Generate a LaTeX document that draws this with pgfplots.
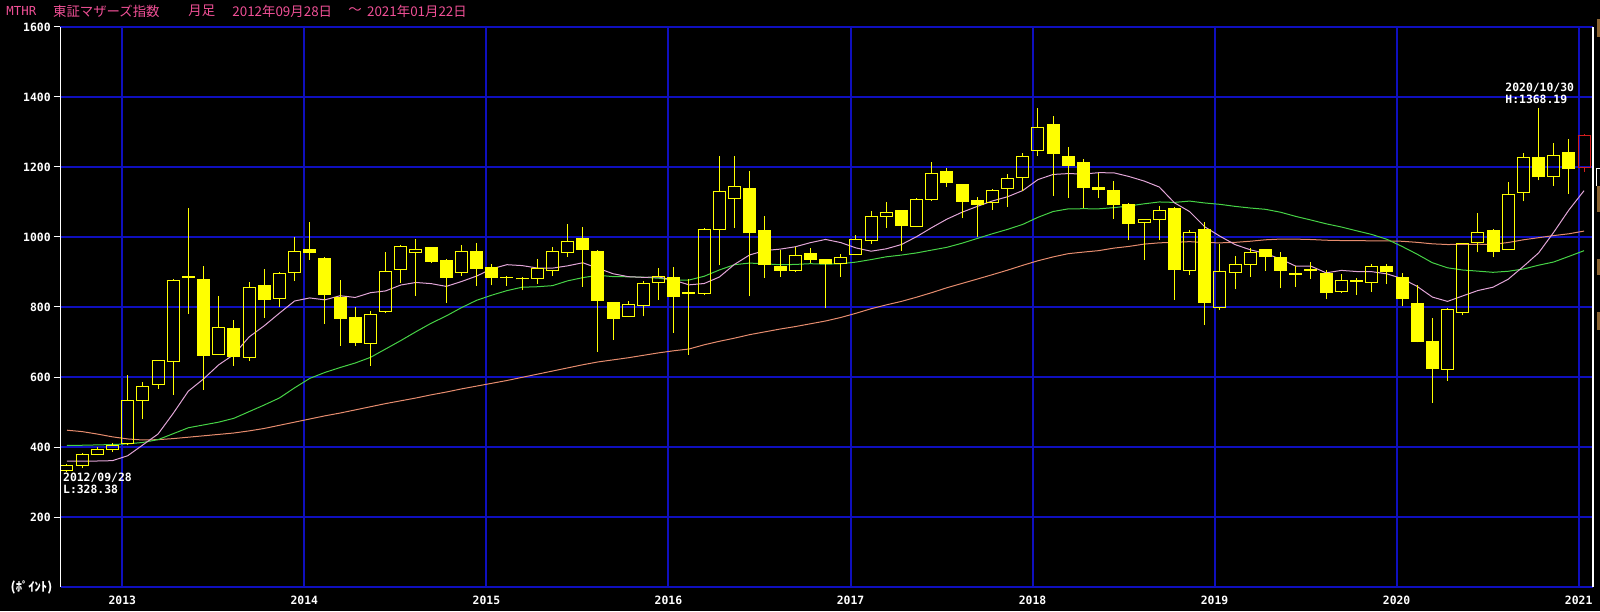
\documentclass[border=0pt]{standalone}
\usepackage{fontspec}
\usepackage{pgfplots}
\usepackage{pgfplotstable}
\pgfplotsset{compat=1.18}
\newfontfamily\cjk{Noto Sans CJK JP}
\newfontfamily\mono{DejaVu Sans Mono}
\definecolor{gridblue}{RGB}{15,15,190}
\definecolor{candle}{RGB}{255,255,0}
\definecolor{redc}{RGB}{210,30,30}
\definecolor{mapink}{RGB}{225,165,215}
\definecolor{magreen}{RGB}{70,210,70}
\definecolor{maorange}{RGB}{230,140,110}
\definecolor{titlepink}{RGB}{240,80,150}
\definecolor{brownbar}{RGB}{140,100,50}

\pgfplotstableread{
i o h l c
0 333 352 328.38 348
1 348 383 339 379
2 379 400 377 393
3 393 411 387 405
4 409 605 405 533
5 533 586 479 573
6 578 649 567 646
7 645 880 550 876
10 665 831 663 742
12 655 871 646 856
14 825 900 801 897
15 898 999 875 959
20 696 789 632 779
21 787 957 785 902
22 908 977 869 973
23 956 993 832 963
26 898 977 889 959
29 884 889 861 885
31 882 937 866 911
32 905 970 889 959
33 955 1037 944 988
37 773 816 771 808
38 805 873 773 868
39 870 912 821 888
41 839 879 664 840
42 838 1027 836 1022
43 1022 1231 919 1130
44 1110 1231 1027 1144
48 904 972 901 948
51 925 952 887 942
52 950 1006 948 993
53 991 1074 981 1059
54 1059 1100 1027 1071
56 1031 1111 1028 1106
57 1107 1213 1105 1181
61 1099 1137 1078 1133
62 1138 1179 1087 1167
63 1170 1240 1132 1230
64 1247 1369 1232 1313
71 1042 1052 934 1050
72 1051 1089 992 1076
74 904 1020 890 1012
76 799 980 791 900
77 899 946 850 920
78 922 968 887 956
81 894 916 858 895
82 905 928 881 906
84 845 893 841 875
86 871 922 844 916
91 622 796 590 794
92 785 984 776 982
93 984 1069 956 1013
95 965 1157 963 1122
96 1128 1240 1102 1228
98 1172 1268 1147 1233
}\candup

\pgfplotstableread{
i o h l c
8 888 1083 781 884
9 880 917 564 661
11 739 763 632 658
13 862 908 769 821
16 966 1043 935 955
17 940 942 752 835
18 829 877 689 767
19 771 800 689 698
24 970 971 926 929
25 934 936 812 884
27 960 982 861 909
28 913 922 862 884
30 884 886 848 879
34 996 1028 858 964
35 960 962 672 818
36 813 815 707 767
40 885 913 727 829
45 1139 1189 830 1010
46 1019 1059 884 921
47 916 963 887 904
49 953 969 925 935
50 936 938 798 923
55 1076 1078 961 1031
58 1189 1196 1144 1153
59 1150 1152 1053 1101
60 1105 1114 999 1092
65 1323 1346 1118 1238
66 1231 1257 1112 1204
67 1213 1223 1084 1141
68 1143 1184 1111 1135
69 1134 1160 1052 1090
70 1093 1098 990 1038
73 1083 1085 821 907
75 1023 1042 750 812
79 965 967 904 944
80 942 957 853 904
83 896 907 822 841
85 877 883 835 872
87 917 922 865 899
88 885 896 804 824
89 811 863 699 701
90 702 769 527 622
94 1020 1023 942 958
97 1228 1368.19 1162 1170
99 1243 1279 1124 1195
}\canddown

\pgfplotstableread{
i o h l c
100 1199 1294 1185 1291
}\candlast

\pgfplotstableread{
i p g r
0 360 405 448
1 360 405 444
2 360 406 437
3 361 407 429
4 375 409 423
5 406 413 420
6 437 421 421
7 496 438 424
8 559.7 455 428
9 594.4 463 432
10 634.8 471 436
11 664.2 482 440
12 714.3 501 446
13 746.3 520 453
14 782.3 540 462
15 817.1 569 471
16 825.9 596 480
17 820.4 613 489
18 832.2 627 497
19 827.3 640 506
20 840.8 656 515
21 845.9 680 524
22 862.8 704 532
23 870.1 729.3 540
24 866.8 753.5 549
25 858.9 774.5 557
26 872.7 798.1 566
27 888.4 819.1 574
28 909.1 833.8 582
29 920.9 846.8 590
30 918.3 856.5 599
31 911.4 857.9 608
32 911.0 861.0 617
33 917.6 874.7 626
34 926.4 883.9 635
35 910.8 890.6 643
36 895.0 886.9 649
37 886.6 886.3 655
38 884.7 885.1 662
39 885.7 882.2 669
40 876.6 876.9 675
41 863.3 877.1 680
42 867.1 887.8 692
43 885.6 905.8 702
44 921.8 921.0 711
45 948.8 925.5 721
46 961.3 923.3 729
47 965.3 920.8 737
48 972.0 921.6 744
49 983.8 923.8 752
50 993.0 922.3 760
51 984.1 923.6 770
52 968.9 928.2 782
53 959.4 935.4 795
54 966.2 943.4 806
55 978.4 948.4 816
56 1000.9 954.5 828
57 1026.8 962.6 841
58 1051.0 970.5 855
59 1070.8 982.3 867.4
60 1087.4 995.8 879.8
61 1103.0 1009.3 892.4
62 1115.0 1021.8 905.3
63 1132.7 1036.0 919.1
64 1164.0 1056.2 932.1
65 1178.7 1072.8 943.1
66 1181.2 1080.4 952.4
67 1179.9 1080.8 956.9
68 1183.7 1080.5 961.0
69 1183.4 1083.8 968.2
70 1172.9 1088.7 973.1
71 1159.9 1094.8 979.7
72 1142.8 1100.1 983.3
73 1097.7 1098.9 984.8
74 1072.6 1102.6 986.7
75 1029.0 1097.2 984.2
76 1002.2 1093.3 983.3
77 978.3 1087.5 984.7
78 963.4 1082.8 987.9
79 953.0 1079.1 992.0
80 936.8 1070.7 994.1
81 916.7 1058.8 993.9
82 916.6 1048.5 992.8
83 897.6 1037.7 990.8
84 904.6 1028.6 989.9
85 901.4 1017.8 989.7
86 901.0 1007.3 989.0
87 894.7 993.5 988.8
88 881.3 973.1 987.8
89 858.8 950.8 984.7
90 828.4 926.5 980.5
91 816.0 912.0 978.5
92 831.7 905.7 978.9
93 847.0 902.5 979.3
94 856.6 899.1 979.2
95 879.4 902.1 984.3
96 916.0 908.5 992.0
97 954.4 919.4 998.0
98 1013.6 928.6 1004.1
99 1077.2 944.6 1009.2
100 1132.4 960.9 1016.9
}\madata

\begin{document}
\begin{tikzpicture}[x=1pt,y=1pt]
\fill[black] (0,0) rectangle (800,305.5);
\useasboundingbox (0,0) rectangle (800,305.5);
\begin{axis}[
  name=ax,
  at={(30.25pt,12pt)}, anchor=south west,
  scale only axis, width=766.25pt, height=280pt,
  xmin=-0.428, xmax=100.59, ymin=0, ymax=1600,
  axis line style={draw=none},
  xtick={3.645,15.645,27.645,39.645,51.65,63.645,75.645,87.645,99.645},
  xticklabels={2013,2014,2015,2016,2017,2018,2019,2020,2021},
  ytick={200,400,600,800,1000,1200,1400,1600},
  yticklabels={200,400,600,800,1000,1200,1400,1600},
  grid=major,
  major grid style={draw=gridblue, line width=1pt},
  tick align=outside, xtick pos=bottom, ytick pos=left,
  major tick length=3.5pt,
  xtick style={draw=none},
  ytick style={draw=white, line width=0.5pt},
  every tick label/.append style={text=white, font=\mono\bfseries\fontsize{5.7pt}{6pt}\selectfont},
  yticklabel style={inner sep=0pt, anchor=east, xshift=-1.2pt},
  xticklabel style={inner sep=0pt, anchor=north, yshift=-1pt},
]
% moving averages
\addplot[maorange, line width=0.5pt] table[x=i, y=r] {\madata};
\addplot[magreen, line width=0.5pt] table[x=i, y=g] {\madata};
\addplot[mapink, line width=0.5pt] table[x=i, y=p] {\madata};
% rising candles (hollow)
\addplot[candle, line width=0.5pt, quiver={u=0, v=\thisrow{h}-\thisrow{c}}] table[x=i, y=c] {\candup};
\addplot[candle, line width=0.5pt, quiver={u=0, v=\thisrow{o}-\thisrow{l}}] table[x=i, y=l] {\candup};
\addplot[candle, line width=0.5pt, quiver={u=0, v=\thisrow{c}-\thisrow{o}}] table[x expr=\thisrow{i}-0.3955, y=o] {\candup};
\addplot[candle, line width=0.5pt, quiver={u=0, v=\thisrow{c}-\thisrow{o}}] table[x expr=\thisrow{i}+0.3955, y=o] {\candup};
\addplot[candle, line width=0.5pt, quiver={u=0.857, v=0}] table[x expr=\thisrow{i}-0.4285, y=o] {\candup};
\addplot[candle, line width=0.5pt, quiver={u=0.857, v=0}] table[x expr=\thisrow{i}-0.4285, y=c] {\candup};
% falling candles (filled)
\addplot[candle, line width=0.5pt, quiver={u=0, v=\thisrow{h}-\thisrow{l}}] table[x=i, y=l] {\canddown};
\addplot[candle, line width=6.5pt, quiver={u=0, v=\thisrow{o}-\thisrow{c}}] table[x=i, y=c] {\canddown};
% current month (red, hollow)
\addplot[redc, line width=0.5pt, quiver={u=0, v=\thisrow{h}-\thisrow{c}}] table[x=i, y=c] {\candlast};
\addplot[redc, line width=0.5pt, quiver={u=0, v=\thisrow{o}-\thisrow{l}}] table[x=i, y=l] {\candlast};
\addplot[redc, line width=0.5pt, quiver={u=0, v=\thisrow{c}-\thisrow{o}}] table[x expr=\thisrow{i}-0.3955, y=o] {\candlast};
\addplot[redc, line width=0.5pt, quiver={u=0, v=\thisrow{c}-\thisrow{o}}] table[x expr=\thisrow{i}+0.3955, y=o] {\candlast};
\addplot[redc, line width=0.5pt, quiver={u=0.857, v=0}] table[x expr=\thisrow{i}-0.4285, y=o] {\candlast};
\addplot[redc, line width=0.5pt, quiver={u=0.857, v=0}] table[x expr=\thisrow{i}-0.4285, y=c] {\candlast};
% annotations
\node[anchor=west, inner sep=0pt, text=white, font=\mono\bfseries\fontsize{5.7pt}{6pt}\selectfont] at (axis cs:-0.28,312.9) {2012/09/28};
\node[anchor=west, inner sep=0pt, text=white, font=\mono\bfseries\fontsize{5.7pt}{6pt}\selectfont] at (axis cs:-0.28,280) {L:328.38};
\node[anchor=west, inner sep=0pt, text=white, font=\mono\bfseries\fontsize{5.7pt}{6pt}\selectfont] at (axis cs:94.79,1425.7) {2020/10/30};
\node[anchor=west, inner sep=0pt, text=white, font=\mono\bfseries\fontsize{5.7pt}{6pt}\selectfont] at (axis cs:94.79,1392.9) {H:1368.19};
\end{axis}
% frame
\draw[gridblue, line width=1pt] (ax.south west) -- (ax.south east);
\draw[white, line width=0.6pt] (ax.south west) -- (ax.north west);
\draw[white, line width=0.6pt] (ax.south east) -- (ax.north east);
% cut-off panel at the right edge
\fill[brownbar] (798.6,287) rectangle (800,296);
\fill[brownbar] (798.6,199.5) rectangle (800,212.5);
\fill[brownbar] (798.6,168) rectangle (800,176);
\fill[brownbar] (798.6,140.5) rectangle (800,149.5);
\draw[white, line width=0.5pt] (798.3,212.5) -- (798.3,221) -- (800,221);
% title
\node[anchor=west, inner sep=0pt, text=titlepink, font=\mono\fontsize{6.2pt}{7pt}\selectfont] at (3,300) {MTHR};
\node[anchor=west, inner sep=0pt, text=titlepink, font=\cjk\fontsize{6.7pt}{7pt}\selectfont] at (26.35,300) {東証マザーズ指数};
\node[anchor=west, inner sep=0pt, text=titlepink, font=\cjk\fontsize{6.7pt}{7pt}\selectfont] at (94,300) {月足};
\node[anchor=west, inner sep=0pt, text=titlepink, font=\cjk\fontsize{6.7pt}{7pt}\selectfont] at (116,300) {2012年09月28日};
\node[anchor=west, inner sep=0pt, text=titlepink, font=\cjk\fontsize{6.7pt}{7pt}\selectfont] at (174,300) {～};
\node[anchor=west, inner sep=0pt, text=titlepink, font=\cjk\fontsize{6.7pt}{7pt}\selectfont] at (183.35,300) {2021年01月22日};
% unit label
\node[anchor=east, inner sep=0pt, text=white, font=\cjk\bfseries\fontsize{6.3pt}{7pt}\selectfont] at (26.35,11.85) {(ﾎﾟｲﾝﾄ)};
\end{tikzpicture}
\end{document}
